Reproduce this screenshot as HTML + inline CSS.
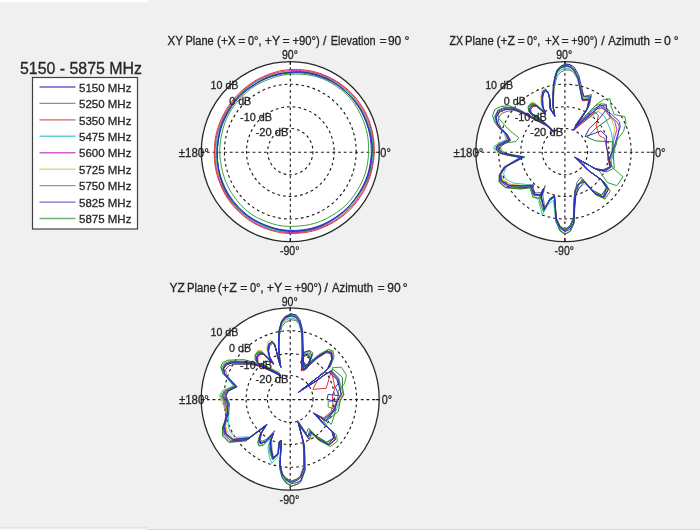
<!DOCTYPE html>
<html><head><meta charset="utf-8"><style>
html,body{margin:0;padding:0;background:#f0f0f0;width:700px;height:530px;overflow:hidden}
svg{display:block}
text{font-family:"Liberation Sans",sans-serif;stroke:#262626;stroke-width:0.3px}
</style></head><body>
<svg width="700" height="530" viewBox="0 0 700 530">
<rect x="0" y="0" width="147.3" height="2.2" fill="#fff"/>
<rect x="0" y="527" width="147.3" height="1.6" fill="#e2e2e2"/>
<rect x="0" y="528.6" width="147.3" height="1.4" fill="#f8f8f8"/>
<rect x="147.3" y="529" width="553" height="1" fill="#dadada"/>
<defs><filter id="bl" x="-2%" y="-2%" width="104%" height="104%"><feGaussianBlur stdDeviation="0.35"/></filter></defs>
<g filter="url(#bl)">
<text x="20.0" y="74.0" font-size="16.4" fill="#262626" text-anchor="start" textLength="122.0" lengthAdjust="spacingAndGlyphs">5150 - 5875 MHz</text>
<rect x="32.5" y="77.5" width="105" height="151.5" fill="#fff" stroke="#404040" stroke-width="1.2"/>
<line x1="39.5" y1="87.0" x2="75.5" y2="87.0" stroke="#6060d0" stroke-width="1.4"/>
<text x="79.0" y="91.6" font-size="11.8" fill="#262626" text-anchor="start" textLength="52.4" lengthAdjust="spacingAndGlyphs">5150 MHz</text>
<line x1="39.5" y1="103.4" x2="75.5" y2="103.4" stroke="#68aa68" stroke-width="1.4"/>
<text x="79.0" y="108.0" font-size="11.8" fill="#262626" text-anchor="start" textLength="52.4" lengthAdjust="spacingAndGlyphs">5250 MHz</text>
<line x1="39.5" y1="119.9" x2="75.5" y2="119.9" stroke="#d86060" stroke-width="1.4"/>
<text x="79.0" y="124.5" font-size="11.8" fill="#262626" text-anchor="start" textLength="52.4" lengthAdjust="spacingAndGlyphs">5350 MHz</text>
<line x1="39.5" y1="136.3" x2="75.5" y2="136.3" stroke="#60d0d0" stroke-width="1.4"/>
<text x="79.0" y="140.9" font-size="11.8" fill="#262626" text-anchor="start" textLength="52.4" lengthAdjust="spacingAndGlyphs">5475 MHz</text>
<line x1="39.5" y1="152.8" x2="75.5" y2="152.8" stroke="#d060d0" stroke-width="1.4"/>
<text x="79.0" y="157.4" font-size="11.8" fill="#262626" text-anchor="start" textLength="52.4" lengthAdjust="spacingAndGlyphs">5600 MHz</text>
<line x1="39.5" y1="169.2" x2="75.5" y2="169.2" stroke="#dcdc80" stroke-width="1.4"/>
<text x="79.0" y="173.8" font-size="11.8" fill="#262626" text-anchor="start" textLength="52.4" lengthAdjust="spacingAndGlyphs">5725 MHz</text>
<line x1="39.5" y1="185.6" x2="75.5" y2="185.6" stroke="#999999" stroke-width="1.4"/>
<text x="79.0" y="190.2" font-size="11.8" fill="#262626" text-anchor="start" textLength="52.4" lengthAdjust="spacingAndGlyphs">5750 MHz</text>
<line x1="39.5" y1="202.1" x2="75.5" y2="202.1" stroke="#7070c8" stroke-width="1.4"/>
<text x="79.0" y="206.7" font-size="11.8" fill="#262626" text-anchor="start" textLength="52.4" lengthAdjust="spacingAndGlyphs">5825 MHz</text>
<line x1="39.5" y1="218.5" x2="75.5" y2="218.5" stroke="#70b070" stroke-width="1.4"/>
<text x="79.0" y="223.1" font-size="11.8" fill="#262626" text-anchor="start" textLength="52.4" lengthAdjust="spacingAndGlyphs">5875 MHz</text>
<ellipse cx="290.3" cy="151.6" rx="89.0" ry="90.0" fill="#fff" stroke="#2a2a2a" stroke-width="1.3"/>
<ellipse cx="290.3" cy="151.6" rx="22.62" ry="23.13" fill="none" stroke="#141414" stroke-width="1.1" stroke-dasharray="2.7 3.0"/>
<ellipse cx="290.3" cy="151.6" rx="43.82" ry="44.82" fill="none" stroke="#141414" stroke-width="1.1" stroke-dasharray="2.7 3.0"/>
<ellipse cx="290.3" cy="151.6" rx="65.91" ry="67.41" fill="none" stroke="#141414" stroke-width="1.1" stroke-dasharray="2.7 3.0"/>
<line x1="201.3" y1="152.2" x2="379.3" y2="152.2" stroke="#141414" stroke-width="1.1" stroke-dasharray="2.8 2.9"/>
<line x1="290.3" y1="61.6" x2="290.3" y2="241.6" stroke="#141414" stroke-width="1.1" stroke-dasharray="2.7 3.0"/>
<path d="M201.3 152.2h3.5M379.3 152.2h-3.5M290.3 61.6v3.5M290.3 241.6v-3.5" stroke="#141414" stroke-width="1.1"/>
<ellipse cx="564.9" cy="151.6" rx="89.1" ry="90.0" fill="#fff" stroke="#2a2a2a" stroke-width="1.3"/>
<ellipse cx="564.9" cy="151.6" rx="22.74" ry="23.13" fill="none" stroke="#141414" stroke-width="1.1" stroke-dasharray="2.7 3.0"/>
<ellipse cx="564.9" cy="151.6" rx="44.07" ry="44.82" fill="none" stroke="#141414" stroke-width="1.1" stroke-dasharray="2.7 3.0"/>
<ellipse cx="564.9" cy="151.6" rx="66.29" ry="67.41" fill="none" stroke="#141414" stroke-width="1.1" stroke-dasharray="2.7 3.0"/>
<line x1="475.8" y1="152.2" x2="654.0" y2="152.2" stroke="#141414" stroke-width="1.1" stroke-dasharray="2.8 2.9"/>
<line x1="564.9" y1="61.6" x2="564.9" y2="241.6" stroke="#141414" stroke-width="1.1" stroke-dasharray="2.7 3.0"/>
<path d="M475.8 152.2h3.5M654.0 152.2h-3.5M564.9 61.6v3.5M564.9 241.6v-3.5" stroke="#141414" stroke-width="1.1"/>
<ellipse cx="290.2" cy="399.0" rx="89.0" ry="91.2" fill="#fff" stroke="#2a2a2a" stroke-width="1.3"/>
<ellipse cx="290.2" cy="399.0" rx="22.77" ry="23.44" fill="none" stroke="#141414" stroke-width="1.1" stroke-dasharray="2.7 3.0"/>
<ellipse cx="290.2" cy="399.0" rx="44.12" ry="45.42" fill="none" stroke="#141414" stroke-width="1.1" stroke-dasharray="2.7 3.0"/>
<ellipse cx="290.2" cy="399.0" rx="66.36" ry="68.31" fill="none" stroke="#141414" stroke-width="1.1" stroke-dasharray="2.7 3.0"/>
<line x1="201.2" y1="399.6" x2="379.2" y2="399.6" stroke="#141414" stroke-width="1.1" stroke-dasharray="2.8 2.9"/>
<line x1="290.2" y1="307.8" x2="290.2" y2="490.2" stroke="#141414" stroke-width="1.1" stroke-dasharray="2.7 3.0"/>
<path d="M201.2 399.6h3.5M379.2 399.6h-3.5M290.2 307.8v3.5M290.2 490.2v-3.5" stroke="#141414" stroke-width="1.1"/>
<path d="M372.7 151.6 L372.8 148.7 L372.8 145.7 L372.7 142.7 L372.4 139.8 L371.9 136.9 L371.3 134.0 L370.5 131.1 L369.7 128.3 L368.8 125.5 L367.8 122.8 L366.7 120.0 L365.6 117.3 L364.3 114.7 L363.0 112.1 L361.6 109.5 L360.0 107.0 L358.4 104.6 L356.7 102.3 L354.9 100.0 L353.0 97.8 L351.1 95.6 L349.2 93.5 L347.2 91.4 L345.1 89.3 L343.0 87.4 L340.8 85.5 L338.5 83.7 L336.2 82.0 L333.7 80.5 L331.2 79.1 L328.7 77.8 L326.1 76.6 L323.4 75.6 L320.7 74.7 L317.9 73.9 L315.2 73.3 L312.4 72.8 L309.6 72.4 L306.8 72.1 L304.0 71.9 L301.3 71.7 L298.5 71.7 L295.8 71.6 L293.0 71.7 L290.3 71.8 L287.6 72.1 L284.9 72.4 L282.2 72.9 L279.6 73.5 L276.9 74.1 L274.3 74.8 L271.8 75.6 L269.2 76.3 L266.6 77.1 L264.1 78.0 L261.6 79.0 L259.1 80.0 L256.7 81.2 L254.4 82.6 L252.2 84.1 L250.0 85.7 L247.9 87.4 L245.9 89.1 L244.0 90.9 L242.0 92.8 L240.1 94.6 L238.3 96.5 L236.5 98.5 L234.8 100.5 L233.2 102.6 L231.7 104.7 L230.2 107.0 L228.9 109.2 L227.6 111.5 L226.4 113.9 L225.2 116.2 L223.9 118.5 L222.8 120.8 L221.6 123.2 L220.6 125.6 L219.6 128.1 L218.8 130.6 L218.2 133.2 L217.7 135.8 L217.4 138.4 L217.1 141.1 L216.8 143.7 L216.6 146.3 L216.4 149.0 L216.2 151.6 L216.1 154.3 L216.0 156.9 L216.1 159.6 L216.3 162.2 L216.6 164.9 L217.1 167.5 L217.6 170.1 L218.2 172.7 L218.9 175.3 L219.7 177.9 L220.4 180.5 L221.3 183.0 L222.2 185.6 L223.2 188.1 L224.3 190.6 L225.5 193.0 L226.9 195.4 L228.3 197.6 L229.9 199.9 L231.6 202.0 L233.3 204.1 L235.2 206.1 L237.1 208.0 L239.0 209.8 L241.1 211.6 L243.2 213.3 L245.3 214.9 L247.5 216.5 L249.8 218.0 L252.0 219.4 L254.3 220.8 L256.7 222.1 L259.0 223.4 L261.4 224.7 L263.9 225.9 L266.4 227.0 L268.9 228.0 L271.5 228.9 L274.1 229.7 L276.7 230.4 L279.4 231.0 L282.1 231.5 L284.8 232.0 L287.5 232.3 L290.3 232.5 L293.1 232.6 L295.8 232.5 L298.6 232.2 L301.3 231.8 L304.0 231.3 L306.7 230.7 L309.4 230.1 L312.1 229.3 L314.7 228.5 L317.4 227.7 L320.0 226.7 L322.5 225.7 L325.1 224.5 L327.5 223.2 L329.9 221.8 L332.3 220.3 L334.6 218.7 L336.9 217.1 L339.2 215.5 L341.4 213.9 L343.7 212.3 L346.0 210.6 L348.2 208.8 L350.3 206.8 L352.3 204.8 L354.2 202.6 L355.9 200.3 L357.5 197.9 L359.0 195.5 L360.4 193.0 L361.8 190.5 L363.2 188.0 L364.5 185.4 L365.8 182.8 L367.0 180.2 L368.1 177.5 L369.1 174.7 L369.9 171.9 L370.6 169.0 L371.1 166.2 L371.5 163.3 L371.9 160.4 L372.2 157.5 L372.5 154.5 L372.7 151.6Z" fill="none" stroke="#606060" stroke-width="0.95"/>
<path d="M373.4 151.6 L373.4 148.6 L373.3 145.7 L373.0 142.7 L372.6 139.8 L372.1 136.8 L371.5 133.9 L370.8 131.1 L370.0 128.2 L369.1 125.4 L368.2 122.6 L367.1 119.9 L366.0 117.1 L364.8 114.4 L363.5 111.8 L362.0 109.3 L360.4 106.8 L358.8 104.4 L357.0 102.0 L355.2 99.7 L353.4 97.5 L351.5 95.3 L349.5 93.1 L347.5 91.0 L345.4 89.0 L343.3 87.0 L341.0 85.2 L338.7 83.5 L336.2 82.0 L333.7 80.6 L331.1 79.3 L328.5 78.1 L325.8 77.1 L323.2 76.1 L320.5 75.1 L317.8 74.3 L315.1 73.5 L312.4 72.8 L309.6 72.3 L306.9 71.8 L304.1 71.6 L301.3 71.4 L298.5 71.4 L295.8 71.4 L293.0 71.5 L290.3 71.7 L287.6 71.9 L284.9 72.2 L282.2 72.5 L279.5 72.9 L276.8 73.4 L274.2 74.0 L271.6 74.7 L269.0 75.5 L266.4 76.5 L263.9 77.5 L261.5 78.6 L259.0 79.8 L256.6 81.0 L254.3 82.4 L252.0 83.8 L249.8 85.3 L247.6 86.9 L245.5 88.6 L243.5 90.4 L241.6 92.2 L239.7 94.2 L237.9 96.1 L236.2 98.2 L234.5 100.2 L232.9 102.3 L231.3 104.5 L229.8 106.6 L228.3 108.9 L227.0 111.1 L225.7 113.5 L224.5 115.8 L223.4 118.2 L222.4 120.7 L221.4 123.1 L220.4 125.6 L219.5 128.1 L218.7 130.6 L217.8 133.1 L217.1 135.7 L216.5 138.3 L216.0 140.9 L215.6 143.6 L215.4 146.2 L215.3 148.9 L215.3 151.6 L215.4 154.3 L215.5 156.9 L215.7 159.6 L216.0 162.3 L216.3 164.9 L216.7 167.6 L217.3 170.2 L217.9 172.8 L218.6 175.4 L219.5 178.0 L220.4 180.5 L221.5 182.9 L222.6 185.4 L223.8 187.8 L225.0 190.2 L226.2 192.5 L227.5 194.9 L228.9 197.2 L230.3 199.5 L231.8 201.8 L233.4 204.0 L235.1 206.1 L236.9 208.1 L238.8 210.1 L240.8 211.9 L242.8 213.8 L244.9 215.5 L247.0 217.2 L249.2 218.9 L251.4 220.4 L253.8 221.9 L256.1 223.3 L258.6 224.5 L261.1 225.6 L263.6 226.6 L266.2 227.5 L268.8 228.3 L271.4 229.0 L274.1 229.7 L276.7 230.3 L279.4 230.8 L282.1 231.3 L284.8 231.6 L287.6 231.9 L290.3 232.0 L293.0 232.0 L295.8 232.0 L298.5 231.8 L301.3 231.5 L304.0 231.2 L306.8 230.8 L309.5 230.4 L312.2 229.9 L315.0 229.3 L317.7 228.5 L320.4 227.7 L323.0 226.7 L325.6 225.6 L328.1 224.3 L330.6 222.9 L333.0 221.4 L335.3 219.9 L337.6 218.2 L339.9 216.5 L342.1 214.8 L344.3 213.0 L346.4 211.1 L348.5 209.1 L350.4 207.0 L352.3 204.8 L354.1 202.6 L355.8 200.2 L357.4 197.9 L358.9 195.5 L360.4 193.0 L361.9 190.5 L363.3 188.0 L364.7 185.5 L366.0 182.9 L367.2 180.2 L368.2 177.5 L369.2 174.7 L370.1 171.9 L370.8 169.1 L371.5 166.2 L372.0 163.3 L372.5 160.4 L372.9 157.5 L373.2 154.6 L373.4 151.6Z" fill="none" stroke="#d4c42a" stroke-width="0.95"/>
<path d="M373.6 151.6 L373.6 148.6 L373.5 145.6 L373.3 142.7 L373.0 139.7 L372.6 136.8 L372.1 133.8 L371.4 130.9 L370.7 128.0 L369.8 125.2 L368.9 122.4 L367.8 119.6 L366.6 116.8 L365.4 114.2 L364.0 111.5 L362.5 108.9 L361.0 106.4 L359.4 104.0 L357.6 101.6 L355.8 99.2 L354.0 97.0 L352.0 94.8 L350.0 92.7 L347.9 90.6 L345.7 88.7 L343.4 86.9 L341.1 85.1 L338.7 83.5 L336.3 81.9 L333.8 80.5 L331.2 79.1 L328.6 77.8 L326.0 76.7 L323.4 75.6 L320.7 74.6 L318.0 73.7 L315.3 73.0 L312.5 72.3 L309.8 71.7 L307.0 71.2 L304.2 70.8 L301.4 70.6 L298.6 70.4 L295.9 70.4 L293.1 70.5 L290.3 70.6 L287.5 70.9 L284.8 71.2 L282.1 71.7 L279.4 72.2 L276.7 72.8 L274.1 73.5 L271.5 74.3 L268.9 75.2 L266.3 76.1 L263.8 77.2 L261.3 78.3 L258.9 79.5 L256.6 80.9 L254.2 82.3 L252.0 83.7 L249.8 85.3 L247.6 86.9 L245.5 88.6 L243.5 90.3 L241.5 92.1 L239.5 94.0 L237.7 95.9 L235.9 97.8 L234.1 99.9 L232.4 101.9 L230.8 104.1 L229.3 106.3 L227.8 108.5 L226.4 110.8 L225.1 113.1 L223.9 115.5 L222.8 117.9 L221.7 120.4 L220.7 122.8 L219.7 125.3 L218.9 127.9 L218.1 130.4 L217.4 133.0 L216.8 135.6 L216.3 138.2 L215.8 140.9 L215.4 143.6 L215.2 146.2 L215.0 148.9 L214.9 151.6 L214.9 154.3 L214.9 157.0 L215.1 159.7 L215.4 162.4 L215.7 165.0 L216.2 167.7 L216.7 170.4 L217.3 173.0 L218.0 175.6 L218.8 178.2 L219.6 180.8 L220.6 183.4 L221.6 185.9 L222.7 188.3 L223.9 190.8 L225.2 193.2 L226.6 195.5 L228.1 197.8 L229.6 200.1 L231.3 202.3 L233.0 204.4 L234.8 206.4 L236.6 208.5 L238.5 210.4 L240.5 212.3 L242.6 214.1 L244.7 215.8 L246.8 217.5 L249.0 219.1 L251.3 220.6 L253.7 222.1 L256.0 223.4 L258.5 224.7 L261.0 225.8 L263.5 226.9 L266.1 227.9 L268.7 228.8 L271.3 229.5 L274.0 230.2 L276.6 230.9 L279.3 231.4 L282.1 231.8 L284.8 232.2 L287.5 232.4 L290.3 232.6 L293.1 232.7 L295.8 232.6 L298.6 232.5 L301.4 232.2 L304.1 231.8 L306.9 231.4 L309.6 230.8 L312.3 230.1 L315.0 229.4 L317.7 228.5 L320.3 227.6 L322.9 226.6 L325.5 225.5 L328.1 224.3 L330.6 223.0 L333.1 221.6 L335.5 220.1 L337.9 218.6 L340.2 216.9 L342.4 215.2 L344.6 213.3 L346.8 211.4 L348.8 209.4 L350.8 207.4 L352.8 205.2 L354.6 203.0 L356.4 200.7 L358.2 198.4 L359.8 196.0 L361.4 193.6 L362.9 191.1 L364.3 188.5 L365.6 185.9 L366.8 183.2 L367.9 180.5 L368.9 177.7 L369.9 174.9 L370.7 172.1 L371.4 169.2 L372.0 166.3 L372.5 163.4 L372.9 160.5 L373.3 157.5 L373.5 154.6 L373.6 151.6Z" fill="none" stroke="#c42ac4" stroke-width="0.95"/>
<path d="M372.7 151.6 L372.6 148.7 L372.5 145.7 L372.3 142.8 L372.0 139.9 L371.7 136.9 L371.2 134.0 L370.5 131.1 L369.7 128.3 L368.8 125.5 L367.8 122.8 L366.6 120.1 L365.3 117.5 L363.9 114.9 L362.5 112.3 L361.1 109.8 L359.6 107.3 L358.0 104.9 L356.4 102.5 L354.7 100.1 L353.0 97.8 L351.1 95.6 L349.1 93.5 L347.0 91.5 L344.8 89.6 L342.6 87.9 L340.3 86.2 L337.9 84.6 L335.5 83.0 L333.1 81.5 L330.7 80.1 L328.1 78.8 L325.6 77.6 L323.0 76.5 L320.4 75.5 L317.7 74.7 L315.0 74.0 L312.2 73.4 L309.5 73.0 L306.7 72.6 L304.0 72.4 L301.2 72.2 L298.5 72.1 L295.7 72.0 L293.0 72.0 L290.3 72.2 L287.6 72.4 L284.9 72.8 L282.2 73.2 L279.6 73.7 L277.0 74.3 L274.4 75.0 L271.8 75.7 L269.2 76.5 L266.7 77.3 L264.2 78.3 L261.8 79.3 L259.3 80.5 L257.0 81.8 L254.7 83.1 L252.5 84.6 L250.3 86.1 L248.2 87.7 L246.1 89.3 L244.0 91.0 L242.1 92.8 L240.1 94.6 L238.2 96.5 L236.4 98.4 L234.7 100.4 L233.1 102.5 L231.5 104.6 L230.1 106.9 L228.7 109.1 L227.4 111.4 L226.2 113.7 L225.0 116.1 L223.8 118.4 L222.7 120.8 L221.7 123.2 L220.7 125.7 L219.8 128.2 L219.0 130.7 L218.3 133.2 L217.7 135.8 L217.2 138.4 L216.8 141.0 L216.5 143.7 L216.3 146.3 L216.2 149.0 L216.2 151.6 L216.2 154.2 L216.3 156.9 L216.5 159.5 L216.8 162.2 L217.2 164.8 L217.7 167.4 L218.3 170.0 L219.0 172.5 L219.7 175.1 L220.5 177.6 L221.4 180.1 L222.4 182.5 L223.4 185.0 L224.6 187.4 L225.8 189.7 L227.0 192.0 L228.4 194.3 L229.8 196.6 L231.2 198.8 L232.7 201.0 L234.2 203.2 L235.8 205.4 L237.5 207.5 L239.3 209.6 L241.1 211.5 L243.1 213.4 L245.1 215.2 L247.2 216.9 L249.5 218.4 L251.7 219.9 L254.1 221.3 L256.4 222.6 L258.8 223.9 L261.3 225.1 L263.7 226.3 L266.2 227.4 L268.8 228.3 L271.4 229.2 L274.0 229.9 L276.7 230.4 L279.4 230.8 L282.1 231.1 L284.9 231.2 L287.6 231.3 L290.3 231.3 L293.0 231.2 L295.7 231.2 L298.5 231.1 L301.2 230.9 L303.9 230.7 L306.7 230.3 L309.4 229.8 L312.1 229.2 L314.7 228.4 L317.3 227.5 L319.9 226.5 L322.4 225.4 L324.9 224.2 L327.4 222.9 L329.8 221.6 L332.3 220.3 L334.7 218.9 L337.0 217.4 L339.3 215.8 L341.6 214.1 L343.7 212.3 L345.8 210.4 L347.8 208.4 L349.7 206.3 L351.6 204.2 L353.4 202.0 L355.1 199.7 L356.8 197.5 L358.4 195.1 L359.9 192.7 L361.4 190.3 L362.8 187.8 L364.2 185.2 L365.5 182.7 L366.7 180.0 L367.8 177.3 L368.8 174.6 L369.7 171.8 L370.5 169.0 L371.2 166.2 L371.7 163.3 L372.1 160.4 L372.4 157.5 L372.6 154.5 L372.7 151.6Z" fill="none" stroke="#2ac4c4" stroke-width="0.95"/>
<path d="M374.3 151.6 L374.3 148.6 L374.2 145.6 L374.0 142.6 L373.7 139.6 L373.2 136.6 L372.7 133.7 L372.1 130.8 L371.3 127.8 L370.5 124.9 L369.6 122.1 L368.5 119.3 L367.4 116.5 L366.1 113.8 L364.7 111.1 L363.3 108.5 L361.7 106.0 L360.0 103.5 L358.2 101.1 L356.4 98.8 L354.5 96.5 L352.5 94.3 L350.4 92.2 L348.3 90.2 L346.1 88.2 L343.8 86.4 L341.5 84.6 L339.1 82.9 L336.6 81.4 L334.1 79.9 L331.6 78.5 L329.0 77.2 L326.4 76.0 L323.7 74.9 L321.0 73.8 L318.3 72.9 L315.6 72.1 L312.8 71.4 L310.0 70.8 L307.2 70.3 L304.4 70.0 L301.6 69.7 L298.7 69.5 L295.9 69.4 L293.1 69.5 L290.3 69.6 L287.5 69.8 L284.7 70.1 L282.0 70.6 L279.2 71.1 L276.5 71.8 L273.9 72.6 L271.2 73.4 L268.6 74.3 L266.1 75.4 L263.6 76.4 L261.1 77.6 L258.6 78.8 L256.2 80.1 L253.9 81.5 L251.6 83.0 L249.3 84.6 L247.2 86.2 L245.1 87.9 L243.0 89.7 L241.0 91.5 L239.0 93.4 L237.1 95.3 L235.3 97.3 L233.5 99.3 L231.8 101.4 L230.1 103.5 L228.6 105.7 L227.1 108.0 L225.7 110.3 L224.4 112.7 L223.2 115.1 L222.0 117.5 L220.9 120.0 L219.9 122.5 L218.9 125.0 L218.0 127.6 L217.2 130.2 L216.5 132.8 L215.9 135.4 L215.4 138.1 L215.0 140.8 L214.7 143.5 L214.5 146.2 L214.4 148.9 L214.3 151.6 L214.3 154.3 L214.3 157.0 L214.5 159.8 L214.7 162.5 L215.0 165.2 L215.5 167.9 L216.0 170.5 L216.6 173.2 L217.4 175.8 L218.2 178.4 L219.1 181.0 L220.1 183.6 L221.1 186.1 L222.2 188.6 L223.4 191.1 L224.7 193.6 L226.0 195.9 L227.5 198.3 L229.0 200.5 L230.7 202.7 L232.4 204.9 L234.3 207.0 L236.1 209.0 L238.1 210.9 L240.1 212.8 L242.1 214.7 L244.2 216.5 L246.4 218.2 L248.6 219.9 L250.9 221.4 L253.3 222.8 L255.7 224.2 L258.2 225.4 L260.7 226.6 L263.2 227.6 L265.8 228.6 L268.4 229.6 L271.1 230.4 L273.8 231.2 L276.5 231.8 L279.2 232.4 L281.9 232.9 L284.7 233.2 L287.5 233.4 L290.3 233.5 L293.1 233.5 L295.9 233.4 L298.7 233.2 L301.5 232.9 L304.3 232.6 L307.0 232.2 L309.8 231.7 L312.6 231.0 L315.3 230.3 L318.0 229.5 L320.7 228.5 L323.3 227.4 L325.9 226.3 L328.5 225.0 L331.0 223.7 L333.5 222.3 L335.9 220.8 L338.3 219.2 L340.7 217.6 L343.0 215.9 L345.3 214.0 L347.5 212.1 L349.5 210.1 L351.6 208.0 L353.5 205.8 L355.4 203.6 L357.1 201.3 L358.9 198.9 L360.5 196.5 L362.1 194.0 L363.6 191.5 L365.0 188.9 L366.3 186.2 L367.5 183.5 L368.6 180.8 L369.6 178.0 L370.5 175.1 L371.3 172.3 L372.0 169.4 L372.6 166.4 L373.1 163.5 L373.6 160.6 L373.9 157.6 L374.2 154.6 L374.3 151.6Z" fill="none" stroke="#e02a2a" stroke-width="0.95"/>
<path d="M372.3 151.6 L372.4 148.7 L372.4 145.7 L372.2 142.8 L371.8 139.9 L371.3 137.0 L370.7 134.1 L369.9 131.3 L369.0 128.5 L368.1 125.8 L367.1 123.0 L366.1 120.3 L365.0 117.6 L363.8 114.9 L362.5 112.3 L361.2 109.8 L359.7 107.3 L358.0 104.9 L356.3 102.6 L354.5 100.3 L352.5 98.2 L350.5 96.1 L348.5 94.1 L346.4 92.2 L344.3 90.2 L342.2 88.4 L339.9 86.6 L337.6 85.0 L335.3 83.4 L332.9 81.9 L330.4 80.6 L327.8 79.4 L325.3 78.3 L322.7 77.2 L320.1 76.3 L317.4 75.4 L314.8 74.5 L312.1 73.8 L309.4 73.1 L306.7 72.6 L304.0 72.2 L301.2 72.0 L298.5 71.9 L295.7 71.9 L293.0 72.1 L290.3 72.3 L287.6 72.6 L284.9 72.9 L282.2 73.3 L279.6 73.7 L277.0 74.2 L274.4 74.9 L271.8 75.6 L269.3 76.5 L266.8 77.6 L264.4 78.7 L262.0 80.0 L259.7 81.3 L257.4 82.6 L255.1 84.0 L252.9 85.3 L250.6 86.7 L248.4 88.1 L246.2 89.6 L244.1 91.1 L242.1 92.8 L240.1 94.6 L238.3 96.5 L236.5 98.5 L234.9 100.6 L233.3 102.7 L231.8 104.9 L230.3 107.0 L228.9 109.2 L227.5 111.4 L226.1 113.7 L224.8 116.0 L223.7 118.4 L222.6 120.8 L221.7 123.3 L221.0 125.8 L220.3 128.3 L219.8 130.9 L219.3 133.5 L218.9 136.1 L218.5 138.7 L218.2 141.2 L217.9 143.8 L217.6 146.4 L217.4 149.0 L217.3 151.6 L217.2 154.2 L217.3 156.8 L217.4 159.4 L217.6 162.0 L217.9 164.7 L218.3 167.3 L218.7 169.9 L219.2 172.4 L219.8 175.0 L220.4 177.6 L221.1 180.2 L222.0 182.7 L222.9 185.2 L223.9 187.7 L225.0 190.1 L226.3 192.5 L227.6 194.9 L229.0 197.1 L230.5 199.3 L232.2 201.5 L233.8 203.6 L235.6 205.6 L237.5 207.5 L239.4 209.4 L241.4 211.2 L243.5 212.9 L245.6 214.5 L247.8 216.1 L250.0 217.5 L252.3 219.0 L254.6 220.4 L256.9 221.7 L259.2 222.9 L261.7 224.1 L264.1 225.2 L266.6 226.2 L269.1 227.2 L271.7 228.0 L274.3 228.8 L276.9 229.4 L279.5 230.0 L282.2 230.5 L284.9 230.9 L287.6 231.2 L290.3 231.4 L293.0 231.5 L295.8 231.5 L298.5 231.4 L301.2 231.2 L304.0 230.8 L306.7 230.3 L309.4 229.7 L312.0 229.0 L314.6 228.2 L317.2 227.3 L319.8 226.2 L322.3 225.1 L324.7 223.8 L327.2 222.5 L329.6 221.2 L332.0 219.8 L334.3 218.3 L336.6 216.8 L338.9 215.2 L341.1 213.5 L343.3 211.8 L345.4 209.9 L347.4 208.0 L349.4 206.0 L351.2 203.9 L353.0 201.7 L354.8 199.5 L356.5 197.3 L358.2 195.0 L359.8 192.6 L361.4 190.3 L362.9 187.8 L364.4 185.3 L365.7 182.8 L366.9 180.1 L367.9 177.4 L368.8 174.6 L369.6 171.8 L370.2 169.0 L370.7 166.1 L371.2 163.2 L371.5 160.3 L371.9 157.4 L372.1 154.5 L372.3 151.6Z" fill="none" stroke="#1e7e1e" stroke-width="0.95"/>
<path d="M368.6 151.6 L368.6 148.8 L368.6 146.0 L368.4 143.2 L368.2 140.4 L367.9 137.6 L367.4 134.8 L366.9 132.1 L366.2 129.3 L365.4 126.6 L364.5 124.0 L363.6 121.3 L362.5 118.7 L361.4 116.2 L360.1 113.6 L358.9 111.1 L357.5 108.7 L356.0 106.3 L354.5 103.9 L352.9 101.6 L351.1 99.4 L349.3 97.3 L347.4 95.2 L345.3 93.3 L343.3 91.5 L341.1 89.7 L338.9 88.0 L336.6 86.4 L334.3 84.9 L331.9 83.4 L329.5 82.1 L327.1 80.8 L324.6 79.6 L322.1 78.6 L319.5 77.6 L316.9 76.8 L314.3 76.1 L311.6 75.5 L309.0 75.1 L306.3 74.7 L303.6 74.4 L300.9 74.2 L298.3 74.1 L295.6 74.1 L292.9 74.1 L290.3 74.2 L287.7 74.4 L285.0 74.8 L282.4 75.2 L279.9 75.7 L277.3 76.4 L274.8 77.1 L272.3 78.0 L269.9 78.9 L267.5 79.8 L265.1 80.8 L262.8 81.9 L260.4 83.0 L258.2 84.2 L255.9 85.5 L253.7 86.8 L251.6 88.2 L249.5 89.8 L247.5 91.4 L245.6 93.0 L243.7 94.8 L241.9 96.6 L240.1 98.5 L238.4 100.4 L236.8 102.3 L235.2 104.3 L233.7 106.4 L232.3 108.5 L230.9 110.6 L229.6 112.8 L228.3 115.0 L227.2 117.3 L226.2 119.6 L225.2 122.0 L224.4 124.4 L223.6 126.8 L222.9 129.2 L222.3 131.7 L221.8 134.1 L221.2 136.6 L220.8 139.1 L220.4 141.6 L220.1 144.1 L219.9 146.6 L219.7 149.1 L219.7 151.6 L219.8 154.1 L220.0 156.6 L220.2 159.1 L220.6 161.6 L221.0 164.1 L221.4 166.6 L221.9 169.0 L222.5 171.5 L223.1 173.9 L223.8 176.3 L224.6 178.7 L225.5 181.1 L226.5 183.4 L227.5 185.7 L228.7 188.0 L229.9 190.2 L231.2 192.4 L232.6 194.5 L234.0 196.6 L235.5 198.6 L237.1 200.6 L238.7 202.6 L240.3 204.5 L242.1 206.4 L243.9 208.1 L245.8 209.9 L247.8 211.5 L249.8 213.0 L251.9 214.5 L254.0 215.8 L256.2 217.1 L258.5 218.3 L260.8 219.4 L263.1 220.4 L265.5 221.4 L267.8 222.3 L270.3 223.1 L272.7 223.8 L275.1 224.5 L277.6 225.1 L280.1 225.5 L282.7 225.9 L285.2 226.2 L287.7 226.3 L290.3 226.4 L292.9 226.4 L295.4 226.3 L298.0 226.1 L300.5 225.9 L303.1 225.6 L305.6 225.3 L308.2 224.9 L310.7 224.3 L313.2 223.7 L315.7 223.0 L318.2 222.2 L320.6 221.2 L323.0 220.2 L325.4 219.1 L327.7 217.9 L330.0 216.6 L332.3 215.3 L334.5 213.9 L336.7 212.4 L338.9 210.9 L341.1 209.3 L343.1 207.6 L345.1 205.8 L347.1 203.9 L348.9 201.9 L350.7 199.8 L352.3 197.7 L354.0 195.5 L355.5 193.3 L357.0 191.0 L358.4 188.6 L359.7 186.2 L361.0 183.8 L362.2 181.3 L363.3 178.8 L364.3 176.2 L365.2 173.6 L366.0 170.9 L366.6 168.2 L367.2 165.5 L367.6 162.7 L368.0 160.0 L368.3 157.2 L368.5 154.4 L368.6 151.6Z" fill="none" stroke="#2e9a2e" stroke-width="0.95"/>
<path d="M371.9 151.6 L372.0 148.7 L371.9 145.8 L371.7 142.9 L371.3 140.0 L370.8 137.1 L370.1 134.2 L369.4 131.4 L368.6 128.6 L367.7 125.9 L366.7 123.2 L365.6 120.5 L364.5 117.8 L363.3 115.2 L362.1 112.6 L360.7 110.0 L359.2 107.6 L357.6 105.2 L355.9 102.8 L354.1 100.6 L352.3 98.4 L350.3 96.3 L348.4 94.3 L346.3 92.3 L344.3 90.3 L342.1 88.4 L340.0 86.6 L337.7 84.9 L335.4 83.2 L333.0 81.7 L330.5 80.3 L328.0 79.0 L325.5 77.9 L322.9 76.8 L320.2 75.9 L317.6 75.0 L314.9 74.2 L312.2 73.6 L309.5 73.0 L306.7 72.5 L304.0 72.2 L301.2 71.9 L298.5 71.9 L295.7 71.9 L293.0 72.1 L290.3 72.3 L287.6 72.7 L284.9 73.1 L282.3 73.6 L279.7 74.1 L277.1 74.8 L274.5 75.4 L271.9 76.2 L269.4 77.0 L266.9 78.0 L264.5 79.1 L262.1 80.2 L259.8 81.5 L257.5 82.8 L255.3 84.2 L253.1 85.6 L250.9 87.1 L248.7 88.6 L246.6 90.1 L244.5 91.7 L242.5 93.4 L240.6 95.1 L238.7 96.9 L236.9 98.8 L235.2 100.9 L233.6 102.9 L232.1 105.1 L230.7 107.3 L229.3 109.5 L228.0 111.8 L226.7 114.1 L225.5 116.4 L224.4 118.7 L223.3 121.1 L222.3 123.5 L221.4 126.0 L220.6 128.4 L219.9 131.0 L219.4 133.5 L218.9 136.1 L218.5 138.6 L218.1 141.2 L217.8 143.8 L217.6 146.4 L217.4 149.0 L217.3 151.6 L217.2 154.2 L217.3 156.8 L217.4 159.4 L217.6 162.1 L217.9 164.7 L218.3 167.3 L218.8 169.8 L219.3 172.4 L219.9 175.0 L220.6 177.5 L221.4 180.1 L222.2 182.6 L223.2 185.1 L224.2 187.5 L225.4 189.9 L226.6 192.3 L228.0 194.6 L229.4 196.8 L231.0 199.0 L232.6 201.1 L234.3 203.2 L236.0 205.2 L237.8 207.2 L239.7 209.1 L241.6 211.0 L243.6 212.8 L245.6 214.5 L247.8 216.1 L250.0 217.6 L252.3 219.0 L254.6 220.3 L257.0 221.5 L259.4 222.6 L261.8 223.7 L264.3 224.8 L266.7 225.8 L269.2 226.7 L271.8 227.6 L274.3 228.4 L276.9 229.2 L279.6 229.8 L282.2 230.3 L284.9 230.7 L287.6 230.9 L290.3 231.0 L293.0 231.0 L295.7 231.0 L298.4 230.8 L301.2 230.6 L303.9 230.3 L306.6 230.0 L309.3 229.5 L312.0 229.0 L314.7 228.3 L317.3 227.5 L319.9 226.5 L322.4 225.4 L324.9 224.2 L327.4 222.9 L329.8 221.5 L332.1 220.1 L334.5 218.6 L336.8 217.0 L339.0 215.3 L341.2 213.6 L343.3 211.8 L345.4 209.9 L347.4 208.0 L349.3 205.9 L351.1 203.8 L352.9 201.6 L354.6 199.4 L356.2 197.1 L357.8 194.8 L359.4 192.4 L360.9 190.0 L362.3 187.5 L363.7 185.0 L364.9 182.4 L366.0 179.8 L367.1 177.1 L368.0 174.4 L368.8 171.6 L369.5 168.8 L370.1 166.0 L370.6 163.1 L371.1 160.3 L371.4 157.4 L371.7 154.5 L371.9 151.6Z" fill="none" stroke="#2a2aa8" stroke-width="0.95"/>
<path d="M371.3 151.6 L371.2 148.7 L371.1 145.8 L370.9 142.9 L370.6 140.1 L370.2 137.2 L369.6 134.4 L369.0 131.5 L368.3 128.7 L367.4 126.0 L366.5 123.2 L365.5 120.5 L364.4 117.9 L363.2 115.2 L361.9 112.7 L360.5 110.2 L359.0 107.7 L357.4 105.3 L355.7 103.0 L354.0 100.7 L352.2 98.5 L350.2 96.4 L348.3 94.3 L346.2 92.4 L344.1 90.5 L341.9 88.7 L339.7 87.0 L337.4 85.3 L335.0 83.8 L332.6 82.4 L330.1 81.0 L327.6 79.8 L325.1 78.7 L322.5 77.6 L319.9 76.7 L317.3 75.9 L314.6 75.1 L311.9 74.5 L309.2 73.9 L306.5 73.5 L303.8 73.1 L301.1 72.9 L298.4 72.7 L295.7 72.7 L293.0 72.8 L290.3 72.9 L287.6 73.2 L285.0 73.5 L282.3 73.9 L279.7 74.4 L277.1 75.0 L274.5 75.7 L272.0 76.5 L269.5 77.3 L267.0 78.3 L264.6 79.3 L262.2 80.4 L259.8 81.6 L257.5 82.9 L255.3 84.3 L253.1 85.7 L250.9 87.2 L248.8 88.7 L246.8 90.3 L244.8 92.0 L242.9 93.8 L241.0 95.6 L239.2 97.5 L237.4 99.4 L235.8 101.4 L234.2 103.4 L232.6 105.5 L231.2 107.7 L229.8 109.8 L228.4 112.1 L227.2 114.3 L226.0 116.6 L224.8 118.9 L223.8 121.3 L222.8 123.7 L221.9 126.1 L221.1 128.6 L220.3 131.1 L219.7 133.6 L219.1 136.1 L218.6 138.7 L218.1 141.2 L217.8 143.8 L217.5 146.4 L217.3 149.0 L217.2 151.6 L217.2 154.2 L217.3 156.8 L217.4 159.4 L217.7 162.0 L218.0 164.6 L218.4 167.2 L218.9 169.8 L219.5 172.4 L220.2 174.9 L221.0 177.4 L221.8 179.9 L222.8 182.4 L223.8 184.8 L224.9 187.2 L226.0 189.5 L227.3 191.9 L228.6 194.1 L230.1 196.4 L231.6 198.5 L233.1 200.7 L234.8 202.7 L236.5 204.7 L238.3 206.7 L240.1 208.6 L242.0 210.4 L244.0 212.2 L246.0 213.9 L248.1 215.5 L250.3 217.1 L252.5 218.6 L254.8 219.9 L257.1 221.3 L259.4 222.5 L261.8 223.6 L264.3 224.7 L266.8 225.7 L269.3 226.6 L271.8 227.4 L274.4 228.1 L277.0 228.7 L279.6 229.3 L282.3 229.7 L284.9 230.0 L287.6 230.3 L290.3 230.4 L293.0 230.4 L295.7 230.4 L298.4 230.2 L301.1 230.0 L303.8 229.6 L306.4 229.2 L309.1 228.7 L311.7 228.1 L314.4 227.3 L317.0 226.5 L319.5 225.6 L322.1 224.6 L324.6 223.5 L327.0 222.3 L329.5 221.0 L331.9 219.6 L334.2 218.2 L336.5 216.6 L338.8 215.0 L341.0 213.4 L343.1 211.6 L345.2 209.7 L347.2 207.8 L349.2 205.8 L351.1 203.8 L352.9 201.6 L354.6 199.4 L356.3 197.1 L357.9 194.8 L359.4 192.4 L360.9 190.0 L362.2 187.5 L363.5 184.9 L364.7 182.3 L365.8 179.7 L366.8 177.0 L367.7 174.3 L368.5 171.5 L369.2 168.7 L369.8 165.9 L370.2 163.1 L370.6 160.2 L371.0 157.4 L371.2 154.5 L371.3 151.6Z" fill="none" stroke="#2a2ae0" stroke-width="0.95"/>
<path d="M565.9 69.9 L561.2 71.7 L557.4 75.5 L555.6 81.2 L554.1 88.6 L553.6 97.9 L553.5 107.9 L554.9 116.4 L550.1 108.4 L549.9 99.4 L548.4 93.4 L545.8 90.4 L543.0 91.5 L541.7 96.2 L541.8 104.6 L544.2 111.5 L538.1 106.5 L535.1 104.1 L531.8 104.5 L529.8 108.8 L531.3 114.3 L540.5 119.3 L552.1 129.5 L545.3 124.0 L534.6 119.6 L524.3 114.2 L514.9 110.5 L507.4 111.2 L501.5 113.5 L498.3 118.2 L499.0 123.8 L501.7 128.6 L507.4 134.4 L509.8 140.3 L503.3 143.2 L498.5 146.1 L498.0 149.2 L501.8 153.0 L509.9 154.9 L522.9 157.2 L505.2 166.9 L499.2 175.0 L499.3 181.9 L505.7 187.4 L521.4 188.4 L532.3 186.4 L532.0 188.2 L535.7 193.0 L542.2 192.4 L545.2 185.6 L542.7 194.8 L544.8 207.6 L550.3 198.2 L554.4 196.5 L555.9 221.4 L559.8 230.8 L565.0 234.5 L570.3 231.1 L573.9 222.3 L574.4 207.5 L575.1 192.0 L577.0 182.4 L581.0 177.0 L592.4 190.0 L601.7 195.0 L607.3 188.4 L602.3 180.4 L588.2 170.3 L576.2 158.0 L596.5 169.4 L604.3 170.7 L609.9 166.6 L608.1 159.8 L612.5 152.0 L616.1 145.0 L618.0 135.6 L619.3 126.9 L617.6 122.7 L609.6 115.2 L606.7 112.8 L606.5 104.4 L600.9 103.8 L595.1 106.2 L575.1 125.7 L589.6 104.8 L591.5 94.6 L583.7 96.6 L580.2 87.0 L577.9 78.7 L573.7 72.5 L569.8 70.2 L565.9 69.9" fill="none" stroke="#606060" stroke-width="0.95" stroke-linejoin="round"/>
<path d="M566.0 68.4 L561.1 69.6 L557.2 73.1 L555.2 78.6 L553.7 86.0 L553.1 95.4 L552.9 105.5 L554.3 114.2 L549.4 106.3 L549.2 97.1 L547.8 91.2 L545.1 88.2 L542.3 89.5 L540.9 94.4 L541.0 103.0 L543.4 109.9 L537.1 104.9 L534.1 102.4 L530.6 102.7 L528.3 106.9 L529.6 112.4 L539.1 117.5 L551.2 127.8 L544.1 122.3 L532.8 117.7 L522.4 112.4 L512.9 108.9 L505.5 109.8 L499.7 112.4 L496.7 117.3 L497.3 123.1 L499.9 128.0 L505.3 133.8 L506.8 139.7 L499.7 142.7 L494.4 145.8 L493.6 149.0 L497.4 153.1 L505.7 155.1 L519.5 157.6 L504.4 167.0 L501.1 174.4 L503.3 180.0 L510.9 184.3 L524.7 185.6 L532.6 186.0 L531.7 188.5 L533.1 196.6 L539.1 198.0 L542.0 191.1 L539.7 200.6 L543.4 211.7 L549.4 201.0 L554.3 196.7 L556.3 218.1 L560.1 226.0 L565.0 229.2 L570.0 226.3 L573.5 218.9 L574.1 205.5 L575.4 193.0 L579.1 187.9 L585.2 183.7 L596.5 195.7 L604.9 198.7 L607.5 188.6 L601.5 179.8 L587.7 169.9 L574.4 157.0 L594.7 168.4 L602.8 169.9 L610.1 166.7 L610.0 160.2 L612.7 140.1 L614.8 128.2 L612.0 120.0 L607.0 113.1 L601.7 108.0 L573.9 128.9 L588.2 107.4 L590.1 97.6 L582.7 99.6 L579.7 89.1 L577.7 79.9 L573.7 72.6 L569.8 69.4 L566.0 68.4" fill="none" stroke="#d4c42a" stroke-width="0.95" stroke-linejoin="round"/>
<path d="M566.0 66.2 L561.0 67.8 L557.1 71.8 L555.1 77.7 L553.6 85.7 L553.1 95.7 L553.2 106.7 L554.7 115.7 L550.2 108.6 L549.7 98.7 L548.2 92.7 L545.7 90.1 L543.2 92.1 L542.2 97.6 L542.7 106.5 L545.2 113.5 L539.3 108.4 L536.3 105.9 L532.8 105.9 L530.3 109.3 L531.3 114.3 L541.3 120.3 L553.3 131.4 L546.3 125.4 L534.3 119.3 L523.2 113.2 L513.2 109.2 L505.2 109.6 L499.2 112.1 L496.1 117.1 L497.1 123.0 L500.0 128.0 L505.9 134.0 L508.3 140.0 L501.7 143.0 L496.6 146.0 L495.9 149.1 L499.5 153.0 L507.4 155.0 L520.5 157.5 L503.8 167.2 L499.2 175.0 L500.7 181.2 L508.4 185.8 L523.6 186.5 L532.9 185.7 L532.3 187.9 L534.5 194.7 L540.5 195.4 L543.5 188.5 L541.0 197.9 L544.1 209.6 L549.9 199.4 L554.5 195.8 L556.3 218.1 L560.0 226.3 L565.0 229.4 L569.9 226.2 L573.4 218.3 L573.9 204.3 L574.8 190.8 L577.8 184.4 L583.2 180.6 L594.7 193.2 L603.7 197.4 L608.2 189.2 L602.8 180.8 L588.8 170.8 L576.5 158.2 L596.8 169.6 L604.9 170.9 L611.0 167.0 L609.2 160.0 L612.6 150.0 L613.8 139.8 L616.9 129.6 L614.8 121.5 L607.5 113.5 L604.3 107.6 L597.2 108.8 L573.3 130.4 L587.0 109.8 L589.1 99.7 L582.4 100.5 L579.9 88.5 L577.9 78.6 L573.9 70.7 L570.0 67.2 L566.0 66.2" fill="none" stroke="#c42ac4" stroke-width="0.95" stroke-linejoin="round"/>
<path d="M566.0 68.1 L561.1 69.7 L557.2 73.5 L555.3 79.3 L553.8 87.0 L553.3 96.6 L553.3 107.0 L554.7 115.7 L550.0 108.0 L549.7 98.7 L548.2 92.7 L545.6 89.9 L542.9 91.2 L541.7 96.2 L541.8 104.6 L544.2 111.4 L537.8 106.0 L534.7 103.5 L531.0 103.4 L528.3 106.9 L529.3 112.1 L539.4 117.9 L551.9 129.1 L544.5 122.9 L532.3 117.2 L521.4 111.5 L511.5 107.8 L503.7 108.6 L497.7 111.2 L494.7 116.3 L495.5 122.4 L498.3 127.4 L504.1 133.4 L506.4 139.6 L499.9 142.7 L495.1 145.8 L494.7 149.0 L498.9 153.0 L507.4 155.0 L521.6 157.3 L506.8 166.4 L503.5 173.5 L505.6 179.0 L513.0 183.0 L526.1 184.4 L533.4 185.2 L532.3 187.8 L532.9 196.9 L538.3 199.3 L541.4 192.2 L538.8 202.2 L542.3 214.7 L548.4 204.3 L553.5 200.3 L555.8 221.5 L559.9 228.9 L565.0 231.3 L570.0 227.5 L573.5 219.1 L574.0 205.0 L574.9 191.3 L577.9 184.7 L583.1 180.3 L594.3 192.7 L602.9 196.4 L606.5 187.7 L600.9 179.4 L586.9 169.3 L574.8 157.2 L595.1 168.7 L603.7 170.4 L611.3 167.1 L611.4 160.5 L615.0 149.9 L612.5 139.9 L611.6 132.7 L607.6 123.0 L605.1 117.2 L598.5 111.4 L573.8 129.2 L587.8 108.3 L589.8 98.2 L582.7 99.6 L579.9 88.6 L577.8 79.3 L573.8 72.0 L569.9 68.9 L566.0 68.1" fill="none" stroke="#2ac4c4" stroke-width="0.95" stroke-linejoin="round"/>
<path d="M566.0 65.1 L561.0 66.6 L557.0 70.7 L555.0 76.8 L553.5 85.0 L553.0 95.1 L553.1 106.3 L554.6 115.4 L550.2 108.6 L549.6 98.4 L548.1 92.4 L545.7 90.0 L543.3 92.2 L542.4 97.8 L543.0 107.0 L545.5 114.0 L539.6 109.0 L536.6 106.5 L533.2 106.5 L530.6 109.8 L531.6 114.7 L541.7 120.9 L553.6 132.0 L546.7 125.9 L534.6 119.6 L523.4 113.4 L513.3 109.2 L505.1 109.6 L498.9 112.0 L495.9 116.9 L496.9 122.9 L499.9 128.0 L506.0 134.0 L508.7 140.0 L502.4 143.1 L497.6 146.0 L497.0 149.1 L500.7 153.0 L508.8 155.0 L522.0 157.3 L505.3 166.8 L500.7 174.5 L502.1 180.6 L509.5 185.1 L524.4 185.8 L533.5 185.1 L532.8 187.3 L534.8 194.2 L540.7 195.1 L543.7 188.2 L541.2 197.7 L544.1 209.7 L549.9 199.5 L554.5 196.1 L556.3 218.4 L560.0 226.5 L565.0 229.7 L570.0 226.4 L573.4 218.3 L573.9 204.3 L574.8 190.7 L577.7 184.3 L583.3 180.7 L594.9 193.4 L604.0 197.7 L608.5 189.5 L603.1 181.0 L589.1 171.1 L576.5 158.2 L596.8 169.6 L604.6 170.8 L610.2 166.7 L607.9 159.8 L607.2 150.0 L604.7 138.5 L599.2 135.5 L596.2 125.6 L598.3 115.7 L595.3 112.0 L573.1 130.9 L586.4 110.8 L588.7 100.5 L582.3 100.7 L580.0 88.2 L578.0 78.0 L574.0 69.7 L570.0 66.1 L566.0 65.1" fill="none" stroke="#e02a2a" stroke-width="0.95" stroke-linejoin="round"/>
<path d="M566.0 64.1 L560.9 65.8 L556.9 70.0 L554.9 76.2 L553.4 84.4 L552.9 94.6 L553.0 105.8 L554.5 114.9 L550.0 108.0 L549.5 97.9 L548.0 91.9 L545.5 89.5 L543.0 91.5 L542.0 96.9 L542.3 105.7 L544.8 112.5 L538.5 107.1 L535.3 104.4 L531.3 103.8 L528.1 106.6 L528.5 111.2 L539.5 118.0 L552.5 130.2 L544.8 123.3 L531.2 116.1 L519.5 109.7 L509.0 105.7 L500.7 106.5 L494.9 109.5 L492.6 115.3 L494.6 122.0 L498.6 127.5 L506.0 134.0 L510.4 140.4 L505.2 143.4 L501.0 146.3 L500.7 149.3 L504.6 152.9 L512.4 154.7 L524.9 156.9 L506.0 166.6 L499.4 174.9 L499.1 182.0 L505.3 187.7 L520.5 189.1 L531.0 187.8 L530.5 189.8 L534.0 195.3 L540.7 195.0 L543.6 188.3 L541.3 197.4 L544.3 209.3 L549.9 199.4 L554.3 196.8 L555.9 220.8 L559.8 230.0 L565.0 234.0 L570.3 231.3 L574.1 223.3 L574.7 209.1 L575.8 194.7 L578.4 186.0 L582.2 178.9 L593.2 191.1 L601.7 195.0 L606.4 187.7 L601.6 179.9 L587.4 169.7 L577.2 158.6 L597.6 170.0 L606.6 171.8 L614.3 168.1 L613.7 160.9 L612.6 141.8 L595.8 140.9 L587.0 137.3 L596.1 127.9 L610.2 117.9 L609.0 110.2 L600.6 104.5 L573.5 129.9 L586.8 110.0 L589.1 99.6 L582.7 99.7 L580.2 87.0 L578.2 76.8 L574.2 68.6 L570.1 65.1 L566.0 64.1" fill="none" stroke="#1e7e1e" stroke-width="0.95" stroke-linejoin="round"/>
<path d="M566.0 66.1 L561.0 67.9 L557.1 72.1 L555.2 78.2 L553.7 86.2 L553.3 96.2 L553.3 107.1 L554.8 116.0 L550.3 108.8 L549.8 99.0 L548.3 93.0 L545.8 90.4 L543.2 92.2 L542.1 97.3 L542.4 105.9 L544.9 112.7 L538.6 107.3 L535.4 104.6 L531.6 104.2 L528.7 107.4 L529.4 112.2 L539.9 118.5 L552.6 130.4 L545.1 123.7 L532.2 117.2 L520.9 111.1 L510.8 107.2 L502.7 107.9 L497.1 110.8 L498.8 118.4 L505.9 126.7 L512.2 132.4 L518.8 137.8 L515.9 141.5 L504.1 143.3 L497.1 146.0 L496.6 149.1 L500.5 153.0 L508.6 155.0 L522.0 157.3 L505.5 166.8 L500.8 174.4 L502.0 180.6 L508.9 185.5 L522.9 187.1 L531.5 187.3 L530.7 189.6 L532.7 197.1 L539.0 198.1 L541.9 191.2 L539.7 200.6 L543.4 211.8 L549.3 201.3 L554.2 197.2 L556.2 218.7 L560.0 226.4 L565.0 229.3 L569.9 225.9 L573.4 217.9 L573.8 203.9 L574.8 190.7 L577.9 184.8 L584.1 181.9 L595.8 194.7 L605.2 199.1 L610.3 191.1 L605.1 182.6 L591.1 172.7 L579.0 159.6 L599.3 171.0 L607.5 182.6 L616.9 185.7 L622.9 176.9 L612.7 167.6 L609.7 160.1 L613.5 153.0 L614.7 148.1 L616.5 140.8 L623.5 131.3 L626.1 122.5 L624.8 116.6 L614.3 114.6 L610.9 105.7 L610.1 98.7 L603.4 99.5 L595.8 105.0 L574.2 128.1 L588.2 107.4 L590.2 97.3 L583.1 98.4 L580.3 86.9 L578.1 77.4 L574.0 69.9 L570.0 66.8 L566.0 66.1" fill="none" stroke="#2e9a2e" stroke-width="0.95" stroke-linejoin="round"/>
<path d="M566.0 64.1 L561.0 66.5 L557.0 71.2 L555.1 77.6 L553.7 86.0 L553.3 96.3 L553.4 107.6 L555.0 116.7 L550.6 109.8 L550.0 99.7 L548.5 93.7 L546.0 91.3 L543.6 93.3 L542.7 98.6 L543.1 107.3 L545.6 114.2 L539.4 108.7 L536.3 106.0 L532.5 105.6 L529.6 108.5 L530.3 113.2 L540.8 119.8 L553.5 131.8 L546.0 125.0 L533.1 118.0 L521.7 111.8 L511.5 107.8 L503.5 108.4 L497.7 111.2 L495.2 116.6 L496.8 122.9 L500.4 128.1 L507.0 134.3 L510.4 140.4 L504.5 143.3 L499.8 146.2 L499.2 149.2 L502.8 152.9 L510.7 154.8 L523.4 157.1 L505.5 166.8 L499.9 174.8 L500.4 181.3 L507.2 186.5 L522.3 187.6 L532.0 186.7 L531.5 188.8 L534.3 194.9 L540.8 194.9 L543.7 188.2 L541.4 197.3 L544.4 208.8 L550.2 198.6 L554.6 195.5 L556.2 218.8 L560.0 227.7 L565.0 231.7 L570.2 229.3 L573.9 221.9 L574.5 208.2 L575.9 195.0 L579.2 188.1 L584.1 182.0 L595.2 193.9 L603.5 197.1 L606.5 187.8 L600.8 179.3 L586.9 169.3 L574.4 157.0 L594.7 168.4 L603.0 170.0 L610.1 166.7 L609.3 160.1 L606.3 145.1 L606.5 136.0 L600.9 131.0 L585.0 136.8 L589.2 128.7 L599.3 118.7 L605.5 110.5 L600.5 106.4 L574.9 126.4 L588.5 106.9 L590.7 96.2 L583.8 96.3 L580.9 84.3 L578.6 74.7 L574.3 67.3 L570.1 64.5 L566.0 64.1" fill="none" stroke="#2a2aa8" stroke-width="0.95" stroke-linejoin="round"/>
<path d="M566.0 65.9 L561.0 67.4 L557.0 71.4 L555.0 77.3 L553.5 85.3 L553.0 95.2 L553.0 106.1 L554.5 115.1 L550.0 108.0 L549.5 98.1 L548.0 92.1 L545.5 89.5 L543.0 91.5 L542.0 96.9 L542.4 105.8 L544.9 112.8 L538.9 107.8 L535.9 105.3 L532.3 105.3 L529.8 108.8 L530.9 113.8 L540.8 119.8 L552.9 130.8 L545.8 124.8 L533.9 118.9 L522.9 112.9 L513.0 109.0 L505.1 109.6 L499.2 112.1 L496.2 117.1 L497.2 123.1 L500.2 128.1 L506.2 134.1 L508.6 140.0 L502.0 143.0 L497.0 146.0 L496.2 149.1 L499.8 153.0 L507.8 155.0 L520.9 157.4 L504.3 167.1 L499.8 174.8 L501.4 180.9 L509.2 185.3 L524.4 185.9 L533.5 185.0 L532.8 187.2 L534.8 194.2 L540.7 195.1 L543.7 188.2 L541.1 197.7 L544.0 209.9 L549.8 199.7 L554.4 196.5 L556.2 219.0 L560.0 227.3 L565.0 230.5 L570.0 227.4 L573.5 219.3 L574.1 205.3 L575.1 191.7 L578.0 185.0 L583.4 180.8 L594.9 193.4 L603.8 197.5 L608.3 189.3 L602.9 181.0 L588.9 170.9 L576.8 158.4 L597.1 169.8 L605.2 171.1 L611.3 167.1 L609.2 160.0 L611.9 152.0 L614.6 145.2 L617.3 135.8 L620.3 126.4 L619.4 121.7 L611.2 113.9 L607.6 112.0 L605.8 105.1 L599.2 106.1 L592.9 109.6 L573.5 129.9 L587.2 109.3 L589.3 99.2 L582.5 100.0 L580.0 88.1 L578.0 78.3 L574.0 70.4 L570.0 66.9 L566.0 65.9" fill="none" stroke="#2a2ae0" stroke-width="0.95" stroke-linejoin="round"/>
<path d="M291.0 319.7 L285.3 322.3 L282.0 326.4 L279.6 334.7 L279.1 348.7 L279.9 361.6 L280.8 367.2 L278.3 359.1 L276.4 350.8 L274.9 345.4 L272.2 342.2 L268.8 343.6 L267.5 348.8 L268.8 355.6 L272.4 361.7 L266.6 356.4 L262.1 352.0 L258.7 352.3 L256.7 356.6 L257.8 362.9 L260.8 366.4 L280.0 373.9 L265.3 366.8 L249.8 364.5 L234.5 364.4 L228.9 365.8 L225.6 369.5 L226.3 374.7 L231.8 381.0 L236.7 386.7 L226.6 390.9 L223.4 395.8 L227.1 404.1 L227.7 414.2 L222.7 427.0 L222.9 435.7 L229.5 442.0 L246.9 440.0 L265.9 425.5 L261.4 433.1 L260.2 439.1 L261.9 441.3 L266.6 439.2 L274.6 430.6 L271.5 439.7 L271.9 449.5 L273.3 457.6 L278.1 454.0 L279.3 441.8 L281.2 441.7 L280.2 456.6 L279.7 467.4 L282.0 477.7 L285.8 483.0 L291.6 486.4 L297.3 484.0 L300.8 480.7 L304.5 468.4 L304.1 455.6 L303.2 441.8 L297.5 420.3 L306.3 433.3 L308.5 428.0 L315.4 435.3 L326.8 442.3 L334.3 438.5 L333.3 432.4 L324.4 424.5 L315.2 413.9 L325.5 420.7 L333.3 410.3 L336.8 400.2 L341.4 394.7 L340.1 387.8 L337.1 379.4 L329.0 372.5 L321.2 377.1 L315.5 381.6 L297.9 392.7 L322.6 373.6 L327.4 368.9 L331.9 359.1 L332.0 352.0 L328.5 349.5 L320.1 353.7 L306.4 364.9 L301.7 359.4 L303.8 353.3 L309.2 350.2 L313.0 353.0 L309.7 363.1 L303.2 365.6 L303.5 359.5 L302.5 344.3 L301.9 333.6 L299.3 324.7 L295.8 320.5 L291.0 319.7" fill="none" stroke="#606060" stroke-width="0.95" stroke-linejoin="round"/>
<path d="M291.0 318.2 L285.2 320.0 L281.7 323.9 L279.2 332.1 L278.5 346.2 L279.3 359.3 L280.2 364.9 L277.7 356.9 L275.7 348.6 L274.2 343.1 L271.6 340.1 L268.1 341.7 L266.7 347.1 L268.0 353.9 L271.6 360.0 L265.7 354.8 L261.1 350.3 L257.5 350.6 L255.2 354.8 L256.1 361.0 L259.1 364.5 L279.3 372.1 L263.9 365.0 L247.8 362.8 L232.7 363.2 L227.2 364.9 L224.0 368.7 L224.5 374.0 L229.6 380.3 L233.9 386.1 L222.8 390.4 L219.1 395.6 L223.0 404.4 L226.6 414.5 L225.7 425.7 L227.8 433.0 L234.3 438.5 L249.0 438.0 L266.1 425.3 L260.5 434.1 L258.1 441.9 L259.1 445.5 L263.5 444.6 L271.7 436.5 L268.9 445.5 L270.4 453.8 L272.7 459.8 L278.2 453.8 L279.0 442.8 L281.3 441.2 L280.6 454.7 L280.1 464.8 L282.4 473.6 L286.1 477.9 L291.5 481.0 L297.0 479.5 L300.4 477.4 L304.4 467.8 L304.4 456.5 L304.1 444.8 L299.0 424.6 L309.5 440.2 L312.7 434.7 L319.6 441.2 L329.9 446.0 L334.7 438.9 L332.4 431.8 L323.3 423.7 L313.4 412.8 L323.7 419.6 L334.5 410.6 L339.2 400.3 L343.0 394.6 L341.0 387.6 L338.2 378.9 L331.2 371.0 L323.4 375.5 L317.6 380.1 L300.0 391.0 L324.8 371.9 L329.5 367.2 L333.5 357.6 L332.7 351.2 L328.4 349.5 L319.3 354.9 L305.0 367.9 L300.9 362.2 L303.0 356.1 L308.0 353.4 L311.6 355.8 L308.3 365.6 L302.0 368.8 L302.5 362.5 L302.0 346.3 L301.7 334.9 L299.3 325.0 L295.8 319.9 L291.0 318.2" fill="none" stroke="#d4c42a" stroke-width="0.95" stroke-linejoin="round"/>
<path d="M291.0 316.0 L285.0 318.3 L281.6 322.8 L279.1 331.7 L278.7 346.7 L279.7 360.7 L280.7 366.7 L278.2 358.6 L276.2 350.2 L274.7 344.7 L272.2 342.1 L269.2 344.6 L268.2 350.5 L269.7 357.5 L273.2 363.5 L267.8 358.5 L263.3 353.9 L259.8 353.9 L257.3 357.3 L257.8 362.8 L260.8 366.3 L280.5 375.2 L266.0 367.6 L248.2 363.2 L232.2 362.9 L226.6 364.6 L223.6 368.5 L224.5 374.0 L230.2 380.5 L235.2 386.4 L224.9 390.7 L221.4 395.7 L224.6 404.3 L226.1 414.6 L223.4 426.7 L225.2 434.5 L232.3 440.0 L248.5 438.5 L266.4 424.9 L261.3 433.1 L259.3 440.3 L260.5 443.4 L265.0 442.0 L273.1 433.8 L270.1 442.8 L271.1 451.7 L273.1 458.3 L278.3 453.0 L279.3 441.7 L281.4 440.5 L280.6 454.4 L280.1 464.6 L282.4 473.8 L286.0 478.3 L291.5 481.2 L296.9 479.2 L300.3 476.6 L304.1 466.1 L303.8 454.3 L303.2 442.0 L297.9 421.4 L307.8 436.5 L310.7 431.6 L317.7 438.6 L328.7 444.7 L335.3 439.4 L333.8 432.8 L324.8 424.8 L315.5 414.1 L325.8 420.9 L334.5 410.6 L337.0 400.2 L340.9 394.7 L340.0 387.8 L338.9 378.6 L331.9 370.5 L324.0 375.1 L318.3 379.6 L300.1 390.9 L325.0 371.7 L329.6 367.1 L332.9 358.1 L331.5 352.5 L326.9 351.5 L317.7 357.4 L303.9 370.0 L300.9 362.5 L302.9 356.5 L307.4 354.9 L310.4 358.1 L307.0 368.0 L301.4 370.3 L302.2 363.4 L302.2 345.6 L301.9 333.6 L299.5 323.2 L295.9 317.7 L291.0 316.0" fill="none" stroke="#c42ac4" stroke-width="0.95" stroke-linejoin="round"/>
<path d="M291.0 317.9 L285.2 320.2 L281.8 324.4 L279.3 333.0 L278.8 347.4 L279.7 360.8 L280.7 366.5 L278.1 358.5 L276.2 350.1 L274.7 344.6 L272.1 341.8 L268.8 343.5 L267.5 348.8 L268.8 355.5 L272.3 361.6 L266.5 356.1 L261.8 351.5 L258.0 351.3 L255.3 354.9 L255.8 360.6 L258.8 364.1 L280.0 373.8 L264.1 365.2 L246.5 361.7 L230.7 362.0 L225.2 363.8 L222.1 367.8 L222.9 373.4 L228.5 379.9 L233.4 385.9 L223.2 390.4 L220.1 395.6 L224.8 404.2 L228.9 413.9 L228.1 424.7 L230.0 431.8 L236.2 437.2 L250.1 436.9 L266.8 424.5 L261.0 433.5 L258.2 441.8 L258.8 445.9 L262.9 445.6 L270.8 438.3 L267.9 447.6 L269.3 456.7 L271.7 463.2 L277.4 457.5 L278.1 446.4 L280.5 444.9 L279.9 458.3 L279.5 468.4 L282.0 476.9 L285.9 480.8 L291.5 483.0 L297.0 480.4 L300.4 477.5 L304.2 466.7 L303.9 454.8 L303.3 442.4 L298.0 421.7 L307.8 436.7 L310.6 431.3 L317.4 438.1 L327.9 443.7 L333.6 437.9 L331.9 431.3 L322.8 423.4 L313.7 413.0 L324.0 419.8 L335.8 411.0 L340.4 400.3 L344.1 394.5 L341.8 387.4 L338.4 378.8 L330.5 371.5 L322.6 376.1 L316.9 380.6 L299.0 391.8 L323.8 372.7 L328.5 368.0 L332.3 358.7 L331.5 352.5 L327.4 350.9 L318.4 356.2 L304.6 368.5 L301.0 361.9 L303.0 355.9 L307.9 353.7 L311.2 356.6 L307.8 366.5 L301.9 369.1 L302.5 362.5 L302.1 345.7 L301.8 334.3 L299.4 324.4 L295.8 319.3 L291.0 317.9" fill="none" stroke="#2ac4c4" stroke-width="0.95" stroke-linejoin="round"/>
<path d="M291.0 314.8 L285.0 317.2 L281.5 321.8 L279.0 330.9 L278.5 346.2 L279.6 360.4 L280.6 366.5 L278.1 358.5 L276.1 349.9 L274.6 344.4 L272.2 342.1 L269.3 344.8 L268.4 350.9 L270.0 358.0 L273.5 364.0 L268.1 359.0 L263.6 354.5 L260.2 354.5 L257.7 357.8 L258.1 363.2 L261.1 366.6 L280.6 375.4 L266.4 368.2 L248.3 363.3 L232.0 362.8 L226.4 364.4 L223.4 368.4 L224.4 374.0 L230.3 380.5 L235.6 386.4 L225.6 390.8 L222.4 395.7 L226.0 404.1 L227.7 414.2 L224.8 426.1 L226.4 433.8 L233.3 439.3 L249.2 437.8 L267.0 424.3 L261.8 432.5 L259.7 439.7 L260.8 442.9 L265.2 441.7 L273.2 433.6 L270.2 442.7 L271.1 451.7 L273.1 458.5 L278.3 453.2 L279.3 441.9 L281.4 440.7 L280.6 454.6 L280.1 464.9 L282.3 474.1 L286.0 478.5 L291.5 481.4 L296.9 479.4 L300.3 476.7 L304.0 466.0 L303.8 454.2 L303.2 441.8 L297.8 421.3 L307.7 436.4 L310.8 431.7 L317.9 438.8 L329.0 445.0 L335.6 439.7 L334.0 433.0 L325.0 425.0 L315.5 414.1 L323.8 417.9 L331.1 411.7 L332.9 403.9 L332.3 396.0 L335.0 388.0 L333.4 379.8 L331.3 371.0 L326.2 388.3 L312.8 389.4 L320.8 373.8 L324.2 372.3 L328.8 367.8 L331.9 359.1 L330.5 353.6 L326.0 352.8 L316.9 358.6 L303.5 370.9 L300.9 362.4 L302.9 356.5 L307.2 355.4 L310.0 359.1 L306.4 369.1 L301.2 370.8 L302.1 363.6 L302.3 345.2 L302.0 333.0 L299.6 322.3 L296.0 316.6 L291.0 314.8" fill="none" stroke="#e02a2a" stroke-width="0.95" stroke-linejoin="round"/>
<path d="M291.0 313.8 L284.9 316.4 L281.4 321.1 L278.9 330.4 L278.4 345.7 L279.5 359.9 L280.5 365.9 L278.0 357.9 L276.0 349.4 L274.5 343.9 L272.0 341.5 L269.0 344.0 L267.9 349.8 L269.3 356.6 L272.9 362.7 L267.1 357.3 L262.4 352.5 L258.5 352.0 L255.2 354.7 L255.0 359.7 L257.9 363.2 L280.3 374.5 L264.0 365.1 L244.1 359.7 L227.8 360.2 L222.8 362.5 L220.7 367.2 L222.9 373.4 L230.1 380.4 L236.9 386.7 L228.6 391.1 L226.1 395.9 L229.5 403.9 L228.7 414.0 L222.6 427.0 L222.6 435.9 L228.9 442.4 L245.8 441.0 L264.5 427.0 L259.9 434.8 L258.5 441.3 L260.2 443.8 L265.1 441.9 L273.4 433.2 L270.4 442.1 L271.3 451.2 L273.1 458.5 L278.1 454.2 L279.2 442.3 L281.2 441.8 L280.3 456.3 L279.8 466.9 L282.0 476.9 L285.8 482.2 L291.6 486.0 L297.4 484.4 L301.0 481.8 L305.0 470.6 L304.8 458.3 L304.2 445.1 L298.7 423.8 L307.9 436.7 L309.6 429.9 L316.2 436.5 L326.7 442.3 L333.4 437.8 L332.6 431.9 L323.8 424.1 L316.0 414.4 L326.1 421.1 L338.2 411.6 L340.4 400.3 L343.5 394.5 L342.5 387.3 L342.4 377.2 L333.3 369.5 L325.2 374.3 L319.7 378.7 L300.2 390.8 L325.4 371.4 L329.8 367.0 L332.3 358.7 L330.8 353.3 L326.3 352.3 L317.2 358.0 L303.9 370.1 L301.2 361.3 L303.2 355.3 L307.6 354.4 L310.4 358.3 L306.8 368.4 L301.6 369.8 L302.5 362.5 L302.5 344.0 L302.2 331.8 L299.8 321.1 L296.1 315.5 L291.0 313.8" fill="none" stroke="#1e7e1e" stroke-width="0.95" stroke-linejoin="round"/>
<path d="M291.0 315.8 L285.1 318.5 L281.6 323.2 L279.2 332.3 L278.8 347.2 L279.8 361.1 L280.8 367.0 L278.3 359.0 L276.3 350.5 L274.8 345.0 L272.3 342.4 L269.2 344.5 L268.0 350.1 L269.4 356.8 L273.0 362.9 L267.2 357.5 L262.5 352.7 L258.7 352.3 L255.7 355.4 L255.9 360.7 L258.9 364.2 L280.5 375.0 L264.5 365.7 L245.8 361.1 L229.7 361.4 L224.4 363.3 L221.6 367.6 L222.9 373.4 L229.1 380.1 L234.6 386.2 L225.0 390.7 L222.0 395.7 L225.9 404.1 L227.8 414.2 L224.9 426.1 L226.0 434.0 L232.2 440.0 L247.4 439.5 L265.0 426.5 L259.7 435.1 L257.6 442.6 L258.8 445.9 L263.4 444.8 L271.7 436.5 L268.9 445.5 L270.3 453.9 L272.6 460.1 L278.0 454.3 L278.9 443.2 L281.2 441.7 L280.5 455.3 L280.0 465.4 L282.3 474.2 L286.0 478.3 L291.5 481.0 L296.9 478.8 L300.3 476.3 L304.0 465.8 L303.8 454.2 L303.2 442.0 L298.0 421.6 L308.1 437.2 L311.6 432.9 L318.8 440.1 L330.2 446.5 L337.4 441.3 L336.5 435.0 L327.9 427.2 L321.5 417.6 L331.4 424.3 L335.9 409.5 L328.2 406.9 L328.2 401.8 L337.5 399.4 L338.2 391.0 L344.5 383.7 L346.4 375.0 L341.4 367.1 L332.1 367.8 L332.2 370.3 L324.4 374.8 L318.6 379.4 L300.9 390.2 L325.7 371.2 L330.4 366.5 L334.1 357.0 L333.0 350.9 L328.4 349.5 L319.2 355.1 L305.1 367.6 L301.4 360.5 L303.4 354.5 L308.3 352.6 L311.6 355.7 L308.3 365.6 L302.3 368.0 L302.9 361.3 L302.5 344.0 L302.1 332.3 L299.6 322.3 L296.0 317.2 L291.0 315.8" fill="none" stroke="#2e9a2e" stroke-width="0.95" stroke-linejoin="round"/>
<path d="M291.0 313.9 L285.0 317.2 L281.5 322.4 L279.2 332.0 L278.8 347.4 L280.0 361.7 L281.0 367.8 L278.5 359.8 L276.5 351.2 L275.0 345.7 L272.6 343.3 L269.7 345.7 L268.7 351.5 L270.1 358.3 L273.7 364.4 L268.0 358.9 L263.4 354.2 L259.6 353.7 L256.6 356.6 L256.7 361.6 L259.7 365.1 L281.0 376.3 L265.4 366.9 L246.6 361.8 L230.7 362.0 L225.5 364.0 L223.1 368.3 L224.7 374.1 L231.2 380.8 L237.1 386.8 L227.8 391.0 L224.7 395.8 L227.8 404.0 L228.0 414.1 L223.6 426.6 L224.3 434.9 L230.9 441.0 L247.3 439.6 L265.6 425.9 L260.6 433.9 L259.0 440.7 L260.4 443.5 L265.1 441.7 L273.4 433.1 L270.4 442.0 L271.4 450.8 L273.3 457.6 L278.4 452.7 L279.5 441.1 L281.5 440.3 L280.6 454.5 L280.0 465.0 L282.3 474.7 L286.0 479.9 L291.5 483.7 L297.2 482.5 L300.8 480.4 L304.9 470.3 L304.9 458.6 L304.5 446.1 L299.3 425.4 L309.2 439.5 L311.6 433.0 L318.3 439.4 L328.4 444.3 L333.7 438.0 L331.8 431.3 L322.7 423.3 L313.3 412.8 L323.6 419.5 L334.1 410.5 L337.8 400.2 L341.4 394.7 L339.5 387.9 L336.9 379.5 L329.5 372.1 L321.7 376.8 L315.9 381.2 L298.2 392.5 L323.0 373.3 L327.6 368.7 L331.6 359.3 L331.1 353.0 L327.2 351.1 L318.7 355.9 L305.5 366.7 L302.1 358.1 L304.2 352.1 L309.0 350.9 L312.0 355.0 L308.4 365.3 L303.0 366.3 L303.6 359.1 L303.1 341.3 L302.6 329.6 L299.9 319.7 L296.2 314.8 L291.0 313.9" fill="none" stroke="#2a2aa8" stroke-width="0.95" stroke-linejoin="round"/>
<path d="M291.0 315.6 L285.0 317.9 L281.5 322.4 L279.0 331.3 L278.5 346.2 L279.5 360.1 L280.5 366.1 L278.0 358.1 L276.0 349.6 L274.5 344.1 L272.0 341.5 L269.0 343.9 L267.9 349.8 L269.4 356.8 L272.9 362.8 L267.4 357.8 L262.9 353.3 L259.3 353.3 L256.8 356.8 L257.4 362.3 L260.4 365.9 L280.3 374.5 L265.5 367.1 L248.0 363.0 L232.2 362.9 L226.7 364.6 L223.7 368.6 L224.7 374.1 L230.5 380.6 L235.8 386.5 L227.6 391.0 L225.8 395.9 L228.5 403.9 L226.7 414.5 L224.0 426.4 L225.9 434.1 L233.0 439.5 L249.2 437.8 L267.0 424.2 L261.8 432.5 L259.7 439.7 L260.8 442.9 L265.2 441.7 L273.1 433.6 L270.1 442.8 L271.0 451.9 L273.0 458.8 L278.2 453.7 L279.2 442.2 L281.3 441.2 L280.5 455.2 L280.0 465.5 L282.3 474.8 L286.0 479.3 L291.5 482.4 L297.0 480.4 L300.4 477.7 L304.3 467.1 L304.1 455.2 L303.4 442.8 L298.1 422.1 L308.0 436.9 L310.9 431.8 L317.9 438.8 L328.8 444.8 L335.4 439.5 L333.9 433.0 L325.0 425.0 L315.8 414.3 L326.1 421.0 L334.7 409.3 L337.0 401.8 L327.1 399.4 L328.1 394.4 L339.2 395.7 L335.4 387.2 L339.0 382.3 L337.8 378.6 L331.9 372.0 L331.2 371.0 L323.3 375.6 L317.6 380.1 L299.6 391.3 L324.5 372.1 L329.1 367.5 L332.6 358.4 L331.5 352.6 L327.0 351.4 L317.9 357.1 L304.1 369.6 L301.0 362.0 L303.0 356.0 L307.6 354.4 L310.7 357.7 L307.2 367.6 L301.6 369.8 L302.3 362.9 L302.3 345.2 L302.0 333.3 L299.6 322.9 L296.0 317.4 L291.0 315.6" fill="none" stroke="#2a2ae0" stroke-width="0.95" stroke-linejoin="round"/>
<text x="167.5" y="44.6" font-size="12.3" fill="#262626" text-anchor="start" textLength="15.4" lengthAdjust="spacingAndGlyphs">XY</text>
<text x="185.5" y="44.6" font-size="12.3" fill="#262626" text-anchor="start" textLength="28.2" lengthAdjust="spacingAndGlyphs">Plane</text>
<text x="217.0" y="44.6" font-size="12.3" fill="#262626" text-anchor="start" textLength="18.6" lengthAdjust="spacingAndGlyphs">(+X</text>
<text x="241.8" y="44.6" font-size="12.3" fill="#262626" text-anchor="middle">=</text>
<text x="248.0" y="44.6" font-size="12.3" fill="#262626" text-anchor="start" textLength="13.5" lengthAdjust="spacingAndGlyphs">0°,</text>
<text x="264.8" y="44.6" font-size="12.3" fill="#262626" text-anchor="start" textLength="15.3" lengthAdjust="spacingAndGlyphs">+Y</text>
<text x="286.2" y="44.6" font-size="12.3" fill="#262626" text-anchor="middle">=</text>
<text x="292.4" y="44.6" font-size="12.3" fill="#262626" text-anchor="start" textLength="27.5" lengthAdjust="spacingAndGlyphs">+90°)</text>
<text x="324.7" y="44.6" font-size="12.3" fill="#262626" text-anchor="middle">/</text>
<text x="330.7" y="44.6" font-size="12.3" fill="#262626" text-anchor="start" textLength="44.9" lengthAdjust="spacingAndGlyphs">Elevation</text>
<text x="383.1" y="44.6" font-size="12.3" fill="#262626" text-anchor="middle">=</text>
<text x="387.9" y="44.6" font-size="12.3" fill="#262626" text-anchor="start" textLength="13.4" lengthAdjust="spacingAndGlyphs">90</text>
<text x="407.0" y="44.6" font-size="12.3" fill="#262626" text-anchor="middle">°</text>
<text x="449.5" y="44.6" font-size="12.3" fill="#262626" text-anchor="start" textLength="13.5" lengthAdjust="spacingAndGlyphs">ZX</text>
<text x="465.0" y="44.6" font-size="12.3" fill="#262626" text-anchor="start" textLength="28.8" lengthAdjust="spacingAndGlyphs">Plane</text>
<text x="496.5" y="44.6" font-size="12.3" fill="#262626" text-anchor="start" textLength="18.5" lengthAdjust="spacingAndGlyphs">(+Z</text>
<text x="521.2" y="44.6" font-size="12.3" fill="#262626" text-anchor="middle">=</text>
<text x="527.0" y="44.6" font-size="12.3" fill="#262626" text-anchor="start" textLength="13.4" lengthAdjust="spacingAndGlyphs">0°,</text>
<text x="545.0" y="44.6" font-size="12.3" fill="#262626" text-anchor="start" textLength="14.7" lengthAdjust="spacingAndGlyphs">+X</text>
<text x="565.2" y="44.6" font-size="12.3" fill="#262626" text-anchor="middle">=</text>
<text x="571.3" y="44.6" font-size="12.3" fill="#262626" text-anchor="start" textLength="26.3" lengthAdjust="spacingAndGlyphs">+90°)</text>
<text x="603.0" y="44.6" font-size="12.3" fill="#262626" text-anchor="middle">/</text>
<text x="608.3" y="44.6" font-size="12.3" fill="#262626" text-anchor="start" textLength="41.6" lengthAdjust="spacingAndGlyphs">Azimuth</text>
<text x="658.0" y="44.6" font-size="12.3" fill="#262626" text-anchor="middle">=</text>
<text x="667.4" y="44.6" font-size="12.3" fill="#262626" text-anchor="middle">0</text>
<text x="676.3" y="44.6" font-size="12.3" fill="#262626" text-anchor="middle">°</text>
<text x="169.5" y="292.3" font-size="12.3" fill="#262626" text-anchor="start" textLength="15.4" lengthAdjust="spacingAndGlyphs">YZ</text>
<text x="186.9" y="292.3" font-size="12.3" fill="#262626" text-anchor="start" textLength="28.8" lengthAdjust="spacingAndGlyphs">Plane</text>
<text x="217.7" y="292.3" font-size="12.3" fill="#262626" text-anchor="start" textLength="19.2" lengthAdjust="spacingAndGlyphs">(+Z</text>
<text x="243.8" y="292.3" font-size="12.3" fill="#262626" text-anchor="middle">=</text>
<text x="249.9" y="292.3" font-size="12.3" fill="#262626" text-anchor="start" textLength="13.6" lengthAdjust="spacingAndGlyphs">0°,</text>
<text x="266.8" y="292.3" font-size="12.3" fill="#262626" text-anchor="start" textLength="15.3" lengthAdjust="spacingAndGlyphs">+Y</text>
<text x="288.2" y="292.3" font-size="12.3" fill="#262626" text-anchor="middle">=</text>
<text x="294.4" y="292.3" font-size="12.3" fill="#262626" text-anchor="start" textLength="27.5" lengthAdjust="spacingAndGlyphs">+90°)</text>
<text x="326.1" y="292.3" font-size="12.3" fill="#262626" text-anchor="middle">/</text>
<text x="332.0" y="292.3" font-size="12.3" fill="#262626" text-anchor="start" textLength="41.0" lengthAdjust="spacingAndGlyphs">Azimuth</text>
<text x="381.1" y="292.3" font-size="12.3" fill="#262626" text-anchor="middle">=</text>
<text x="387.2" y="292.3" font-size="12.3" fill="#262626" text-anchor="start" textLength="13.4" lengthAdjust="spacingAndGlyphs">90</text>
<text x="405.2" y="292.3" font-size="12.3" fill="#262626" text-anchor="middle">°</text>
<text x="281.9" y="58.6" font-size="12.5" fill="#262626" text-anchor="start" textLength="16.0" lengthAdjust="spacingAndGlyphs">90°</text>
<text x="279.9" y="255.1" font-size="12.5" fill="#262626" text-anchor="start" textLength="19.5" lengthAdjust="spacingAndGlyphs">-90°</text>
<text x="178.8" y="156.6" font-size="12.5" fill="#262626" text-anchor="start" textLength="30.0" lengthAdjust="spacingAndGlyphs">±180°</text>
<text x="380.3" y="157.1" font-size="12.5" fill="#262626" text-anchor="start" textLength="10.5" lengthAdjust="spacingAndGlyphs">0°</text>
<text x="210.6" y="89.3" font-size="11.6" fill="#262626" text-anchor="start" textLength="27.9" lengthAdjust="spacingAndGlyphs">10 dB</text>
<text x="229.2" y="104.8" font-size="11.6" fill="#262626" text-anchor="start" textLength="22.1" lengthAdjust="spacingAndGlyphs">0 dB</text>
<text x="240.1" y="121.4" font-size="11.6" fill="#262626" text-anchor="start" textLength="32.0" lengthAdjust="spacingAndGlyphs">-10 dB</text>
<text x="255.6" y="136.4" font-size="11.6" fill="#262626" text-anchor="start" textLength="32.9" lengthAdjust="spacingAndGlyphs">-20 dB</text>
<text x="556.2" y="58.6" font-size="12.5" fill="#262626" text-anchor="start" textLength="16.0" lengthAdjust="spacingAndGlyphs">90°</text>
<text x="554.5" y="255.1" font-size="12.5" fill="#262626" text-anchor="start" textLength="19.5" lengthAdjust="spacingAndGlyphs">-90°</text>
<text x="453.4" y="156.6" font-size="12.5" fill="#262626" text-anchor="start" textLength="30.0" lengthAdjust="spacingAndGlyphs">±180°</text>
<text x="654.9" y="157.1" font-size="12.5" fill="#262626" text-anchor="start" textLength="10.5" lengthAdjust="spacingAndGlyphs">0°</text>
<text x="485.2" y="89.3" font-size="11.6" fill="#262626" text-anchor="start" textLength="27.9" lengthAdjust="spacingAndGlyphs">10 dB</text>
<text x="503.8" y="104.8" font-size="11.6" fill="#262626" text-anchor="start" textLength="22.1" lengthAdjust="spacingAndGlyphs">0 dB</text>
<text x="514.7" y="121.4" font-size="11.6" fill="#262626" text-anchor="start" textLength="32.0" lengthAdjust="spacingAndGlyphs">-10 dB</text>
<text x="530.2" y="136.4" font-size="11.6" fill="#262626" text-anchor="start" textLength="32.9" lengthAdjust="spacingAndGlyphs">-20 dB</text>
<text x="281.7" y="305.7" font-size="12.5" fill="#262626" text-anchor="start" textLength="16.0" lengthAdjust="spacingAndGlyphs">90°</text>
<text x="279.6" y="503.6" font-size="12.5" fill="#262626" text-anchor="start" textLength="19.7" lengthAdjust="spacingAndGlyphs">-90°</text>
<text x="178.9" y="403.9" font-size="12.5" fill="#262626" text-anchor="start" textLength="30.0" lengthAdjust="spacingAndGlyphs">±180°</text>
<text x="381.7" y="403.6" font-size="12.5" fill="#262626" text-anchor="start" textLength="10.3" lengthAdjust="spacingAndGlyphs">0°</text>
<text x="210.5" y="335.7" font-size="11.6" fill="#262626" text-anchor="start" textLength="27.9" lengthAdjust="spacingAndGlyphs">10 dB</text>
<text x="229.1" y="352.1" font-size="11.6" fill="#262626" text-anchor="start" textLength="22.1" lengthAdjust="spacingAndGlyphs">0 dB</text>
<text x="240.0" y="368.6" font-size="11.6" fill="#262626" text-anchor="start" textLength="32.0" lengthAdjust="spacingAndGlyphs">-10 dB</text>
<text x="255.5" y="382.9" font-size="11.6" fill="#262626" text-anchor="start" textLength="32.9" lengthAdjust="spacingAndGlyphs">-20 dB</text>
</g>
</svg></body></html>
